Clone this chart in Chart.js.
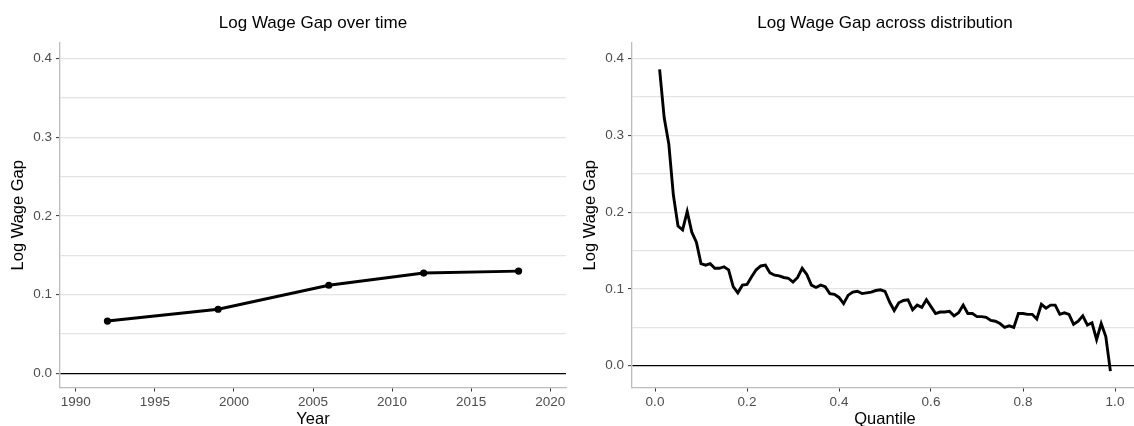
<!DOCTYPE html>
<html lang="en">
<head>
<meta charset="UTF-8">
<title>Log Wage Gap</title>
<script src="https://cdn.jsdelivr.net/npm/chart.js"></script>
<style>
  body { margin: 0; background: #fff; width: 1134px; height: 426px; overflow: hidden; position: relative; }
  canvas { position: absolute; top: 0; }
  #timeChart { left: 0; }
  #quantileChart { left: 572px; }
</style>
</head>
<body>
<canvas id="timeChart" width="570" height="426"></canvas>
<canvas id="quantileChart" width="566" height="426"></canvas>
<script>
// left panel: gap by survey year
const years = [1992, 1999, 2006, 2012, 2018];
const gapByYear = [0.0665, 0.0815, 0.112, 0.1275, 0.130];

// right panel: gap by quantile of the wage distribution
const quantiles = [
  0.01, 0.02, 0.03, 0.04, 0.05, 0.06, 0.07, 0.08, 0.09, 0.10,
  0.11, 0.12, 0.13, 0.14, 0.15, 0.16, 0.17, 0.18, 0.19, 0.20,
  0.21, 0.22, 0.23, 0.24, 0.25, 0.26, 0.27, 0.28, 0.29, 0.30,
  0.31, 0.32, 0.33, 0.34, 0.35, 0.36, 0.37, 0.38, 0.39, 0.40,
  0.41, 0.42, 0.43, 0.44, 0.45, 0.46, 0.47, 0.48, 0.49, 0.50,
  0.51, 0.52, 0.53, 0.54, 0.55, 0.56, 0.57, 0.58, 0.59, 0.60,
  0.61, 0.62, 0.63, 0.64, 0.65, 0.66, 0.67, 0.68, 0.69, 0.70,
  0.71, 0.72, 0.73, 0.74, 0.75, 0.76, 0.77, 0.78, 0.79, 0.80,
  0.81, 0.82, 0.83, 0.84, 0.85, 0.86, 0.87, 0.88, 0.89, 0.90,
  0.91, 0.92, 0.93, 0.94, 0.95, 0.96, 0.97, 0.98, 0.99
];
const gapByQuantile = [
  0.386, 0.323, 0.289, 0.222, 0.182, 0.177, 0.201, 0.174, 0.161, 0.133,
  0.131, 0.133, 0.127, 0.127, 0.129, 0.125, 0.103, 0.095, 0.105, 0.106,
  0.116, 0.125, 0.130, 0.131, 0.121, 0.118, 0.117, 0.115, 0.114, 0.109,
  0.115, 0.127, 0.119, 0.105, 0.102, 0.105, 0.103, 0.094, 0.093, 0.089,
  0.081, 0.092, 0.096, 0.097, 0.094, 0.095, 0.096, 0.098, 0.099, 0.097,
  0.083, 0.072, 0.082, 0.085, 0.086, 0.073, 0.079, 0.076, 0.086, 0.077,
  0.068, 0.070, 0.070, 0.071, 0.065, 0.069, 0.079, 0.068, 0.068, 0.064,
  0.064, 0.063, 0.059, 0.058, 0.055, 0.050, 0.052, 0.050, 0.068, 0.068,
  0.067, 0.067, 0.061, 0.080, 0.075, 0.079, 0.079, 0.067, 0.069, 0.067,
  0.054, 0.058, 0.065, 0.053, 0.056, 0.034, 0.055, 0.038, -0.007
];

// tick values
const yTicks = [0, 0.05, 0.1, 0.15, 0.2, 0.25, 0.3, 0.35, 0.4];
const yearTicks = [1990, 1995, 2000, 2005, 2010, 2015, 2020];
const quantileTicks = [0, 0.2, 0.4, 0.6, 0.8, 1.0];

const FONT = "'Liberation Sans', Arial, Helvetica, sans-serif";
const isMajor = v => Math.abs(v * 10 - Math.round(v * 10)) < 1e-6;

function makeOptions(cfg) {
  return {
    responsive: false,
    animation: false,
    devicePixelRatio: 1,
    layout: { padding: { left: 0, right: cfg.padRight, top: 0, bottom: 0 } },
    plugins: {
      legend: { display: false },
      tooltip: { enabled: false }
    },
    scales: {
      // empty top axis only carries the panel title, so it is centred on the plot area
      top: {
        type: 'linear',
        position: 'top',
        min: cfg.xMin,
        max: cfg.xMax,
        afterFit: s => { s.height = 43; },
        border: { display: false },
        grid: { display: false, drawTicks: false },
        ticks: { display: false },
        title: {
          display: true,
          text: cfg.title,
          color: '#000',
          font: { family: FONT, size: 17, lineHeight: 1.2 },
          padding: { top: 13.5, bottom: 0 }
        }
      },
      x: {
        type: 'linear',
        min: cfg.xMin,
        max: cfg.xMax,
        afterBuildTicks: s => { s.ticks = cfg.xTicks.map(v => ({ value: v })); },
        afterFit: s => { s.height = 38.5; },
        border: { color: '#bdbdbd', width: 1.3 },
        grid: { drawOnChartArea: false, drawTicks: true, tickLength: 4, tickColor: '#333', tickWidth: 1 },
        ticks: {
          color: '#4d4d4d',
          padding: 3,
          maxRotation: 0,
          font: { family: FONT, size: 13.5 },
          callback: cfg.xFormat
        },
        title: {
          display: true,
          text: cfg.xTitle,
          color: '#000',
          font: { family: FONT, size: 16.5, lineHeight: 1.1 },
          padding: { top: 0, bottom: -2.5 }
        }
      },
      y: {
        type: 'linear',
        min: cfg.yMin,
        max: cfg.yMax,
        afterBuildTicks: s => { s.ticks = yTicks.map(v => ({ value: v })); },
        afterFit: s => { s.width = 60; },
        border: { color: '#bdbdbd', width: 1.3 },
        grid: {
          color: c => (c.tick && Math.abs(c.tick.value) < 1e-9 ? '#000' : '#e4e4e4'),
          lineWidth: c => (c.tick && Math.abs(c.tick.value) < 1e-9 ? 1.3 : 1.2),
          drawTicks: true,
          tickLength: 4,
          tickWidth: 1,
          tickColor: c => (c.tick && isMajor(c.tick.value) ? '#333' : 'rgba(0,0,0,0)')
        },
        ticks: {
          color: '#4d4d4d',
          padding: 4,
          font: { family: FONT, size: 13.5 },
          callback: v => (isMajor(v) ? v.toFixed(1) : '')
        },
        title: {
          display: true,
          text: 'Log Wage Gap',
          color: '#000',
          font: { family: FONT, size: 16.5, lineHeight: 1.1 },
          padding: { top: 9.8, bottom: 0 }
        }
      }
    }
  };
}

new Chart(document.getElementById('timeChart'), {
  type: 'line',
  data: {
    datasets: [{
      data: years.map((yr, i) => ({ x: yr, y: gapByYear[i] })),
      borderColor: '#000',
      backgroundColor: '#000',
      borderWidth: 2.9,
      pointRadius: 3.6,
      pointBorderWidth: 0,
      tension: 0,
      fill: false
    }]
  },
  options: makeOptions({
    title: 'Log Wage Gap over time',
    xTitle: 'Year',
    xMin: 1989, xMax: 2021,
    xTicks: yearTicks,
    xFormat: v => String(v),
    yMin: -0.018, yMax: 0.42,
    padRight: 4
  })
});

new Chart(document.getElementById('quantileChart'), {
  type: 'line',
  data: {
    datasets: [{
      data: quantiles.map((q, i) => ({ x: q, y: gapByQuantile[i] })),
      borderColor: '#000',
      borderWidth: 2.9,
      pointRadius: 0,
      tension: 0,
      fill: false
    }]
  },
  options: makeOptions({
    title: 'Log Wage Gap across distribution',
    xTitle: 'Quantile',
    xMin: -0.05, xMax: 1.05,
    xTicks: quantileTicks,
    xFormat: v => v.toFixed(1),
    yMin: -0.0283, yMax: 0.4204,
    padRight: 0
  })
});
</script>
</body>
</html>
